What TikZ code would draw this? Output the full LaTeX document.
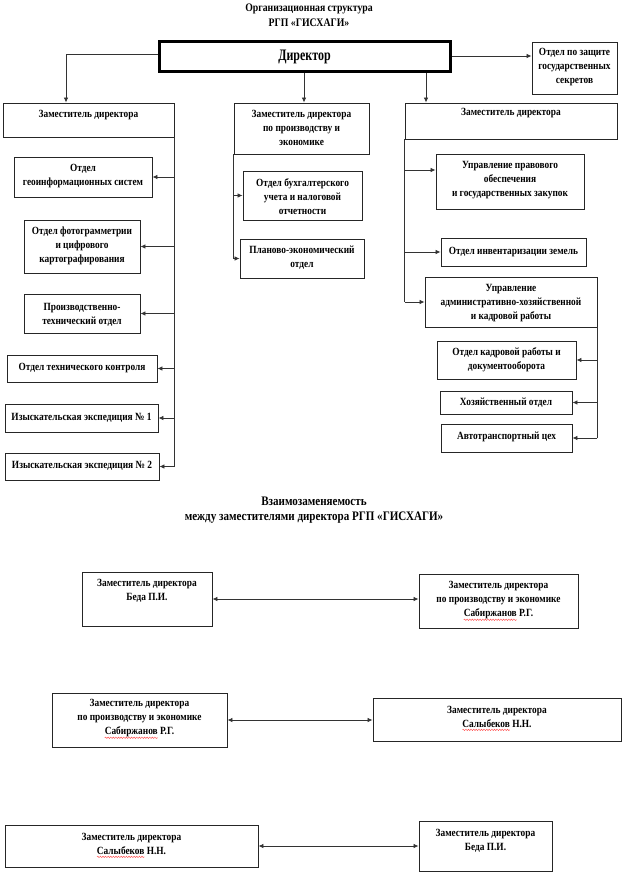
\documentclass[tikz,border=0pt]{standalone}
\usepackage{fontspec}
\usepackage{graphicx}
\setmainfont[FakeStretch=0.85]{Liberation Serif}
\usetikzlibrary{arrows.meta,fit,decorations.pathmorphing}
\newsavebox\wavebox
\newlength\wavelen
\newcommand\redwave[1]{\sbox\wavebox{#1}\setlength\wavelen{\wd\wavebox}%
  \rlap{\usebox\wavebox}%
  \tikz[x=1pt,y=1pt,baseline=0pt]{\useasboundingbox (0,0) rectangle (\wavelen,0);
    \draw[red!70,line width=0.45pt,decorate,decoration={snake,amplitude=0.7pt,segment length=2.6pt}] (0,-2.8) -- (\wavelen,-2.8);}}
\begin{document}
\begin{tikzpicture}[x=1pt,y=-1pt,
  box/.style={draw=black!85,line width=0.9pt,rectangle,inner sep=0pt},
  dirbox/.style={draw=black,line width=3pt,rectangle,inner sep=0pt},
  txt/.style={font=\fontsize{11}{14}\selectfont\bfseries,align=center,inner sep=0pt},
  ttl/.style={font=\fontsize{11.5}{15}\selectfont\bfseries,align=center,inner sep=0pt},
  conn/.style={draw=black!80,line width=0.8pt},
  arr/.style={conn,-{Latex[length=5pt,width=4.5pt]}},
  darr/.style={conn,{Latex[length=5pt,width=4.5pt]}-{Latex[length=5pt,width=4.5pt]}}]
\useasboundingbox[fill=white] (0,0) rectangle (623,877);

% titles
\node[ttl] (t0) at (309,15.5) {Организационная структура\\РГП «ГИСХАГИ»};
\node[ttl,font=\fontsize{13}{15}\selectfont\bfseries] (t00) at (314,510.5) {Взаимозаменяемость\\ между заместителями директора РГП «ГИСХАГИ»};

% director and top-level
\node[dirbox,fit={(159,42)(450,72)}] (dir) {};
\node[txt,font=\fontsize{16}{20}\selectfont\bfseries] (tdir) at (304.5,57) {\scalebox{0.88}[1]{Директор}};
\node[box,fit={(532,42)(617,94)}] (sec) {};
\node[txt] (tsec) at (574.5,67) {Отдел по защите\\государственных\\секретов};

\node[box,fit={(3,103)(174,137)}] (zl) {};
\node[txt] (tzl) at (88.5,115) {Заместитель директора};
\node[box,fit={(234,103)(369,154)}] (zm) {};
\node[txt] (tzm) at (301.5,128) {Заместитель директора\\по производству и\\экономике};
\node[box,fit={(405,103)(617,139)}] (zr) {};
\node[txt] (tzr) at (511,113) {Заместитель директора};

% left column
\node[box,fit={(14,157)(152,197)}] (g1) {};
\node[txt] (tg1) at (83,176) {Отдел\\геоинформационных систем};
\node[box,fit={(24,220)(140,273)}] (g2) {};
\node[txt] (tg2) at (82,245.5) {Отдел фотограмметрии\\и цифрового\\картографирования};
\node[box,fit={(24,294)(140,333)}] (g3) {};
\node[txt] (tg3) at (82,315) {Производственно-\\технический отдел};
\node[box,fit={(7,355)(157,382)}] (g4) {};
\node[txt] (tg4) at (82,368) {Отдел технического контроля};
\node[box,fit={(5,404)(158,432)}] (g5) {};
\node[txt] (tg5) at (81.5,418) {Изыскательская экспедиция № 1};
\node[box,fit={(5,453)(159,480)}] (g6) {};
\node[txt] (tg6) at (82,466) {Изыскательская экспедиция № 2};

% middle column
\node[box,fit={(243,171)(362,220)}] (m1) {};
\node[txt] (tm1) at (302.5,197) {Отдел бухгалтерского\\учета и налоговой\\отчетности};
\node[box,fit={(240,239)(364,278)}] (m2) {};
\node[txt] (tm2) at (302,257.5) {Планово-экономический\\отдел};

% right column
\node[box,fit={(436,154)(584,209)}] (r1) {};
\node[txt] (tr1) at (510,180) {Управление правового\\обеспечения\\и государственных закупок};
\node[box,fit={(441,238)(586,266)}] (r2) {};
\node[txt] (tr2) at (513.5,252) {Отдел инвентаризации земель};
\node[box,fit={(425,277)(597,327)}] (r3) {};
\node[txt] (tr3) at (511,303) {Управление\\административно-хозяйственной\\и кадровой работы};
\node[box,fit={(437,341)(576,379)}] (r4) {};
\node[txt] (tr4) at (506.5,360) {Отдел кадровой работы и\\документооборота};
\node[box,fit={(440,391)(572,414)}] (r5) {};
\node[txt] (tr5) at (506,403) {Хозяйственный отдел};
\node[box,fit={(441,424)(572,452)}] (r6) {};
\node[txt] (tr6) at (506.5,437) {Автотранспортный цех};

% connectors top
\draw[arr] ([yshift=3pt]dir.west) -| ([xshift=-22.5pt]zl.north);
\draw[arr] ([xshift=-0.5pt]dir.south) coordinate (cm) -- (cm |- zm.north);
\draw[arr] ([xshift=121.5pt]dir.south) coordinate (cr) -- (cr |- zr.north);
\draw[arr] ([yshift=1pt]dir.east) coordinate (cs) -- (cs -| sec.west);

% left column connectors
\draw[conn] (zl.south east) -- (zl.south east |- g6.east);
\foreach \n in {g1,g2,g3,g4,g5,g6} \draw[arr] (zl.south east |- \n.east) -- (\n.east);
% middle
\draw[conn] (zm.south west) -- (zm.south west |- m2.west);
\foreach \n in {m1,m2} \draw[arr] (zm.south west |- \n.west) -- (\n.west);
% right
\draw[conn] (zr.south west) -- (zr.south west |- r3.west);
\draw[arr] (zr.south west |- 0,170) -- (r1.west |- 0,170);
\foreach \n in {r2,r3} \draw[arr] (zr.south west |- \n.west) -- (\n.west);
\draw[conn] (r3.south east) -- (r3.south east |- r6.east);
\foreach \n in {r4,r5,r6} \draw[arr] (r3.south east |- \n.east) -- (\n.east);

% bottom section
\node[box,fit={(82,572)(212,626)}] (b1) {};
\node[txt] (tb1) at (147,590.5) {Заместитель директора\\Беда П.И.};
\node[box,fit={(419,574)(578,628)}] (b2) {};
\node[txt] (tb2) at (498.5,600.5) {Заместитель директора\\по производству и экономике\\\redwave{Сабиржанов} Р.Г.};
\node[box,fit={(52,693)(227,747)}] (b3) {};
\node[txt] (tb3) at (139.5,718.5) {Заместитель директора\\по производству и экономике\\\redwave{Сабиржанов} Р.Г.};
\node[box,fit={(373,698)(621,741)}] (b4) {};
\node[txt] (tb4) at (497,716.5) {Заместитель директора\\\redwave{Салыбеков} Н.Н.};
\node[box,fit={(5,825)(258,867)}] (b5) {};
\node[txt] (tb5) at (131.5,843.5) {Заместитель директора\\\redwave{Салыбеков} Н.Н.};
\node[box,fit={(419,821)(552,871)}] (b6) {};
\node[txt] (tb6) at (485.5,840.5) {Заместитель директора\\Беда П.И.};

\draw[darr] (b1.east) -- (b1.east -| b2.west);
\draw[darr] (b3.east) -- (b3.east -| b4.west);
\draw[darr] (b5.east) -- (b5.east -| b6.west);
\end{tikzpicture}
\end{document}
